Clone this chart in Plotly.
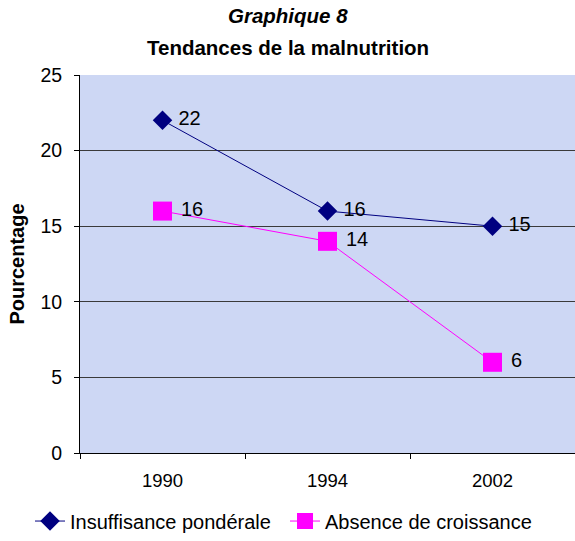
import plotly.graph_objects as go

years = ["1990", "1994", "2002"]
insuffisance = [22, 16, 15]
absence = [16, 14, 6]
y_ticks = [0, 5, 10, 15, 20, 25]
title_line1 = "Graphique 8"
title_line2 = "Tendances de la malnutrition"

font_family = "Liberation Sans, Arial, sans-serif"

fig = go.Figure()
fig.add_trace(go.Scatter(
    x=years, y=insuffisance, name="Insuffisance pondérale",
    mode="lines+markers+text",
    line=dict(color="#000080", width=1),
    marker=dict(symbol="diamond", size=15, color="#000080"),
    text=[" " + str(v) for v in insuffisance], textposition="middle right",
    textfont=dict(size=20, color="black", family=font_family),
))
fig.add_trace(go.Scatter(
    x=years, y=absence, name="Absence de croissance",
    mode="lines+markers+text",
    line=dict(color="#FF00FF", width=1),
    marker=dict(symbol="square", size=19, color="#FF00FF"),
    text=[" " + str(v) for v in absence], textposition="middle right",
    textfont=dict(size=20, color="black", family=font_family),
))

fig.update_layout(
    width=575, height=541,
    margin=dict(l=80, r=0, t=75, b=88),
    paper_bgcolor="white",
    plot_bgcolor="#cdd7f4",
    font=dict(family=font_family, size=19, color="black"),
    showlegend=True,
    legend=dict(
        orientation="h", x=-0.101, xanchor="left", y=-0.18, yanchor="middle",
        font=dict(size=20, family=font_family), bgcolor="rgba(0,0,0,0)",
        entrywidth=210,
    ),
    annotations=[
        dict(text="<b><i>" + title_line1 + "</i></b>", xref="paper", yref="paper",
             x=0.42, y=1.158, xanchor="center", yanchor="middle", showarrow=False,
             font=dict(size=20.5, family=font_family, color="black")),
        dict(text="<b>" + title_line2 + "</b>", xref="paper", yref="paper",
             x=0.42, y=1.074, xanchor="center", yanchor="middle", showarrow=False,
             font=dict(size=20.5, family=font_family, color="black")),
    ],
)
fig.update_xaxes(
    type="category", range=[-0.5, 2.5],
    showline=True, linecolor="black", linewidth=1,
    ticks="outside", tickson="boundaries", ticklen=5, tickcolor="black",
    showgrid=False, ticklabelstandoff=11,
    tickfont=dict(size=18.5),
)
fig.update_yaxes(
    range=[0, 25], tickvals=y_ticks,
    showline=True, linecolor="black", linewidth=1,
    ticks="outside", ticklen=5, tickcolor="black",
    showgrid=True, gridcolor="#3a3a3a", gridwidth=1,
    zeroline=False, ticklabelstandoff=8,
    tickfont=dict(size=19.5),
    title=dict(text="<b>Pourcentage</b>", font=dict(size=20), standoff=10),
)

fig.write_html(
    "out.html",
    config={"displayModeBar": False},
    post_script="document.body.style.margin='0';document.body.style.overflow='hidden';",
)
